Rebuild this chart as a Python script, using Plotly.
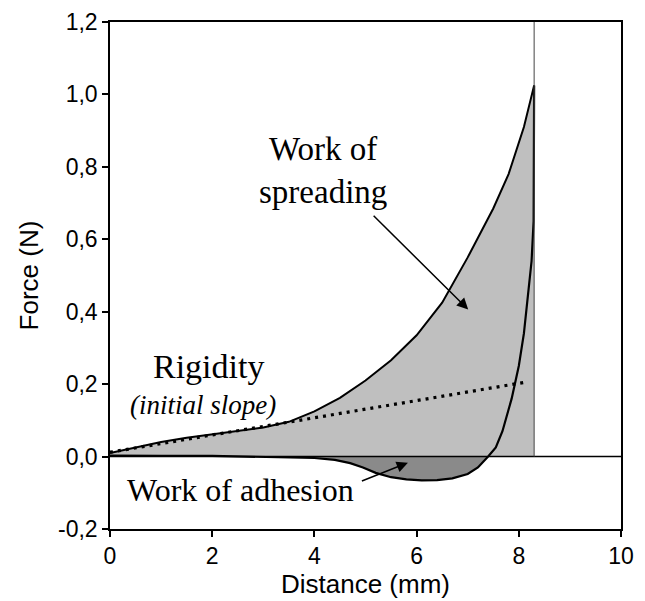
import plotly.graph_objects as go

# Loading (compression) curve
load_x = [0, 0.5, 1, 1.5, 2, 2.5, 3, 3.5, 4, 4.5, 5, 5.5, 6, 6.5, 7, 7.5, 7.8, 8.1, 8.3]
load_y = [0.010, 0.025, 0.040, 0.052, 0.062, 0.071, 0.080, 0.096, 0.125, 0.162, 0.210,
          0.266, 0.335, 0.425, 0.550, 0.685, 0.780, 0.910, 1.025]

# Withdrawal curve
wd_x = [8.30, 8.30, 8.29, 8.25, 8.18, 8.10, 8.00, 7.86, 7.68, 7.55, 7.40, 7.20, 7.00, 6.70,
        6.40, 6.10, 5.80, 5.50, 5.20, 4.95, 4.70, 4.40, 4.00, 3.50, 3.00, 2.00, 1.00, 0.00]
wd_y = [1.025, 0.85, 0.65, 0.54, 0.44, 0.34, 0.25, 0.16, 0.07, 0.025, 0.0, -0.030, -0.048,
        -0.060, -0.065, -0.066, -0.063, -0.057, -0.045, -0.030, -0.018, -0.009, -0.004,
        -0.002, -0.001, 0.002, 0.002, 0.003]

# Rigidity (initial slope) line
rig_x = [0.0, 8.16]
rig_y = [0.012, 0.206]

max_distance = 8.3

y_ticks = [-0.2, 0.0, 0.2, 0.4, 0.6, 0.8, 1.0, 1.2]
y_ticktext = ["-0,2", "0,0", "0,2", "0,4", "0,6", "0,8", "1,0", "1,2"]
x_ticks = [0, 2, 4, 6, 8, 10]

# negative (adhesion) portion of the withdrawal curve
neg = [(x, y) for x, y in zip(wd_x, wd_y) if y <= 0]
neg_x = [p[0] for p in neg]
neg_y = [p[1] for p in neg]

fig = go.Figure()

# Work of spreading (light grey area under loading curve)
fig.add_trace(go.Scatter(x=load_x, y=load_y, mode="lines", fill="tozeroy",
                         fillcolor="#bfbfbf", line=dict(color="black", width=2),
                         hoverinfo="skip"))
# Work of adhesion (dark grey area)
fig.add_trace(go.Scatter(x=neg_x, y=neg_y, mode="lines", fill="tozeroy",
                         fillcolor="#8a8a8a", line=dict(color="rgba(0,0,0,0)", width=0),
                         hoverinfo="skip"))
# Withdrawal curve
fig.add_trace(go.Scatter(x=wd_x, y=wd_y, mode="lines",
                         line=dict(color="black", width=2.2), hoverinfo="skip"))
# Rigidity line
fig.add_trace(go.Scatter(x=rig_x, y=rig_y, mode="lines",
                         line=dict(color="black", width=3.2, dash="3px,5px"),
                         hoverinfo="skip"))

# zero line and vertical max-distance line
fig.add_shape(type="line", x0=0, x1=10, y0=0, y1=0, xref="x", yref="y",
              line=dict(color="black", width=1.5), layer="above")
fig.add_shape(type="line", x0=max_distance, x1=max_distance, y0=0, y1=1.2, xref="x", yref="y",
              line=dict(color="#444444", width=1), layer="above")

serif = "Liberation Serif, Times New Roman, serif"

fig.add_annotation(x=4.17, y=0.79, text="Work of<br>spreading", showarrow=False,
                   font=dict(family=serif, size=33, color="black"), xref="x", yref="y")
fig.add_annotation(x=7.01, y=0.406, ax=5.13, ay=0.669, axref="x", ayref="y",
                   xref="x", yref="y", text="", showarrow=True, arrowhead=2,
                   arrowsize=1.5, arrowwidth=1.5, arrowcolor="black")
fig.add_annotation(x=1.92, y=0.248, text="Rigidity", showarrow=False,
                   font=dict(family=serif, size=34, color="black"))
fig.add_annotation(x=1.82, y=0.142, text="<i>(initial slope)</i>", showarrow=False,
                   font=dict(family=serif, size=27, color="black"))
fig.add_annotation(x=2.55, y=-0.092, text="Work of adhesion", showarrow=False,
                   font=dict(family=serif, size=32, color="black"))
fig.add_annotation(x=5.83, y=-0.017, ax=4.90, ay=-0.069, axref="x", ayref="y",
                   xref="x", yref="y", text="", showarrow=True, arrowhead=2,
                   arrowsize=1.5, arrowwidth=1.5, arrowcolor="black")

sans = "Liberation Sans, Arial, sans-serif"
axis_font = dict(family=sans, size=23, color="black")

fig.update_xaxes(range=[0, 10], tickvals=x_ticks, ticks="outside", ticklen=6, tickwidth=1.5,
                 tickcolor="black", showline=True, linecolor="black", linewidth=1.5,
                 mirror=True, showgrid=False, zeroline=False, tickfont=axis_font,
                 title=dict(text="Distance (mm)", font=dict(family=sans, size=26, color="black"), standoff=6))
fig.update_yaxes(range=[-0.2, 1.2], tickvals=y_ticks, ticktext=y_ticktext, ticks="outside",
                 ticklen=6, tickwidth=1.5, tickcolor="black", showline=True,
                 linecolor="black", linewidth=1.5, mirror=True, showgrid=False,
                 zeroline=False, tickfont=axis_font,
                 title=dict(text="Force (N)", font=dict(family=sans, size=26, color="black"), standoff=12))

# page body has an 8px margin: shrink figure so the plot lands where the reference has it
fig.update_layout(width=637, height=593, margin=dict(l=102, r=24, t=14, b=72, autoexpand=False),
                  paper_bgcolor="white", plot_bgcolor="white", showlegend=False)

fig.write_html("out.html")
